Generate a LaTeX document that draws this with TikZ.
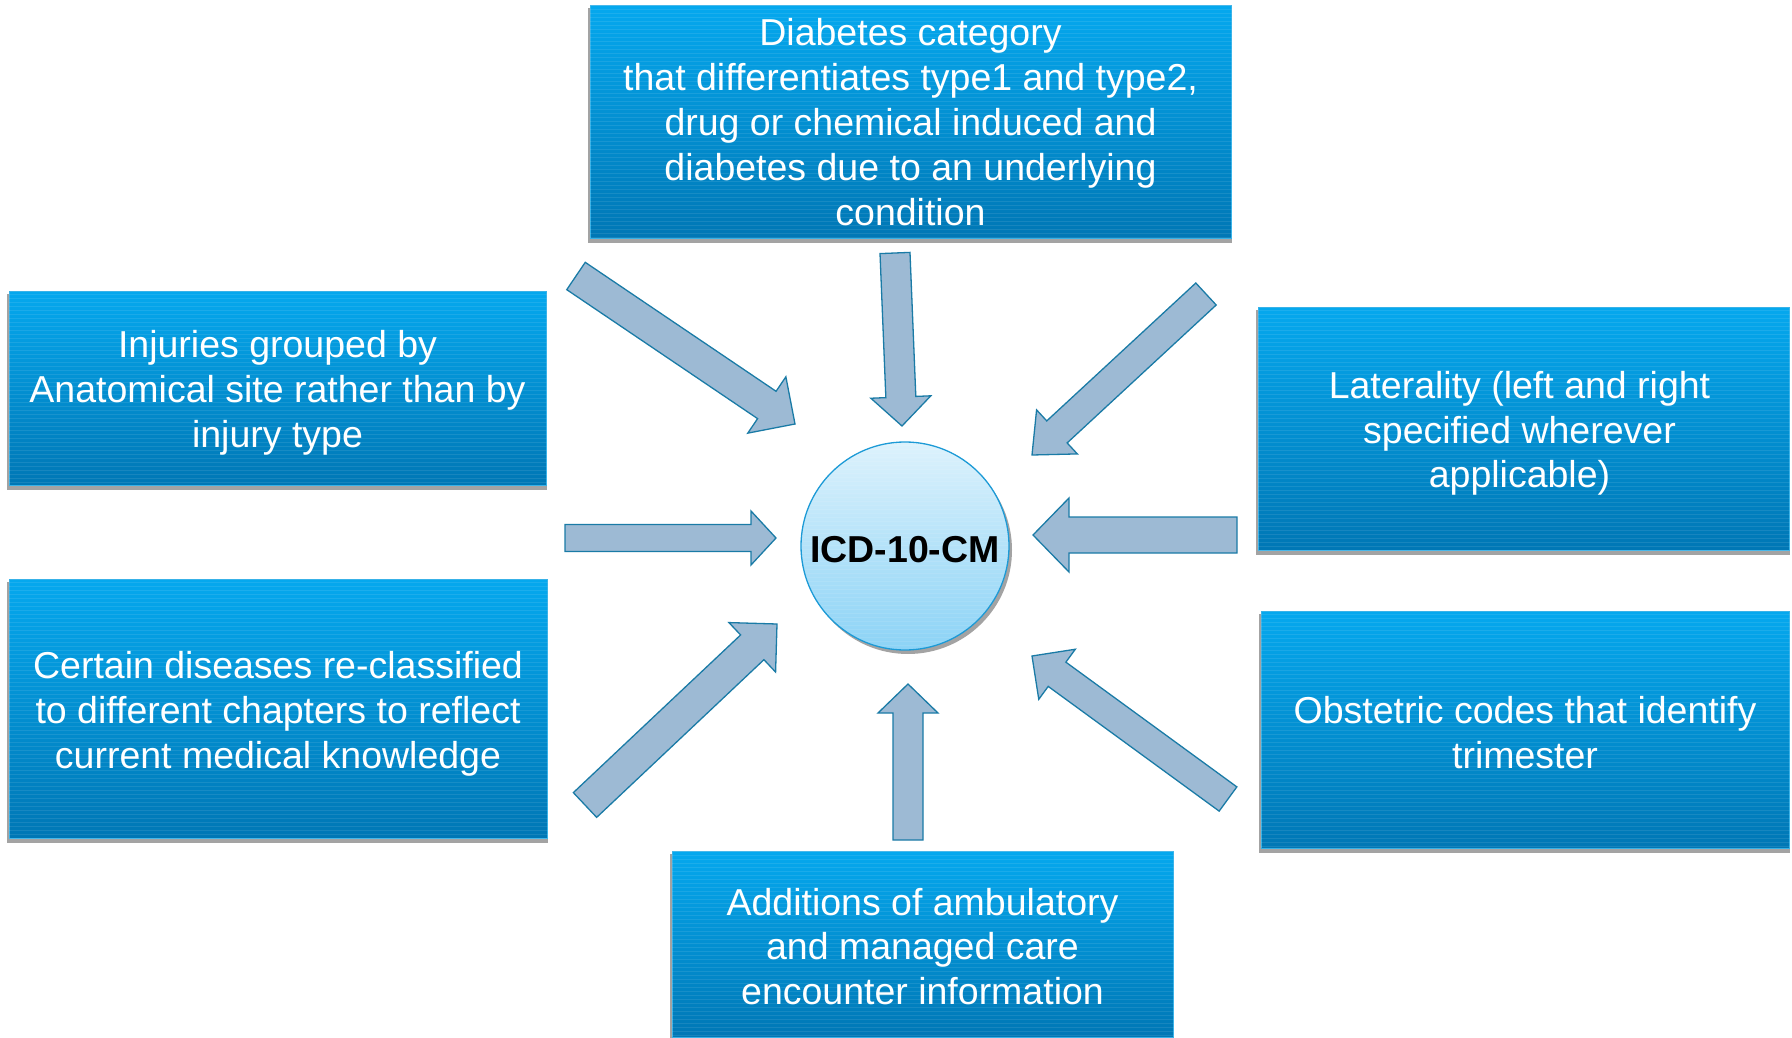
\documentclass[tikz,border=0pt]{standalone}
\usepackage{fontspec}
\setmainfont{Liberation Sans}
\usetikzlibrary{calc,backgrounds}
\definecolor{boxtop}{HTML}{05A8EE}
\definecolor{boxbot}{HTML}{0077B5}
\definecolor{boxedge}{HTML}{38B2E8}
\definecolor{arrfill}{HTML}{9DBAD4}
\definecolor{arredge}{HTML}{1A7BA6}
\definecolor{circtop}{HTML}{DDF2FC}
\definecolor{circbot}{HTML}{8CD3F6}
\definecolor{circedge}{HTML}{1C9AD6}
\definecolor{shadowc}{HTML}{A3A3A3}
\newcommand\stripes[1]{%
  \begin{scope}
    \clip (#1.south west) rectangle (#1.north east);
    \foreach \k in {0,...,65}{%
      \draw[stripe] ([yshift=-\k*4pt]#1.north west) -- ([yshift=-\k*4pt]#1.north east);}
  \end{scope}}
\newcommand\boxshadow[1]{%
  \begin{pgfonlayer}{background}
    \fill[shadowc] ([xshift=-1.5pt,yshift=-4pt]#1.south west) rectangle ([yshift=-3pt]#1.north east);
  \end{pgfonlayer}}
\newcommand\fatarrow[5]{% tail, tip, half shaft, half head, head length
  \path ($(#2)!#5!(#1)$) coordinate (nk);
  \draw[arr] ($(#1)!#3!90:(#2)$) -- ($(nk)!#3!90:(#2)$) -- ($(nk)!#4!90:(#2)$) -- (#2)
    -- ($(nk)!#4!-90:(#2)$) -- ($(nk)!#3!-90:(#2)$) -- ($(#1)!#3!-90:(#2)$) -- cycle;}
\begin{document}
\begin{tikzpicture}[x=1pt,y=-1pt,
  box/.style={draw=boxedge, line width=1pt, top color=boxtop, bottom color=boxbot, inner sep=0pt},
  boxtext/.style={text=white, align=center, inner sep=0pt, font=\fontsize{37.5}{44.8}\selectfont},
  stripe/.style={white, opacity=0.09, line width=0.8pt},
  arr/.style={draw=arredge, fill=arrfill, line width=1.3pt, line join=miter}]
\useasboundingbox (0,0) rectangle (1792,1038);

% boxes
\node[box, minimum width=641pt, minimum height=232pt] (diab) at (910.5,122) {};
\node[box, minimum width=537pt, minimum height=194pt] (inj) at (277.5,388) {};
\node[box, minimum width=538pt, minimum height=259pt] (cert) at (278,708.5) {};
\node[box, minimum width=531pt, minimum height=243pt] (lat) at (1523.5,428.5) {};
\node[box, minimum width=528pt, minimum height=237pt] (obs) at (1525,729.5) {};
\node[box, minimum width=501pt, minimum height=186pt] (add) at (922.5,944.5) {};
\foreach \n in {diab,inj,cert,lat,obs,add}{\boxshadow{\n}\stripes{\n}}

% box texts
\node[boxtext] (diabT) at ([yshift=0pt]diab.center)
  {Diabetes category\\that differentiates type1 and type2,\\drug or chemical induced and\\diabetes due to an underlying\\condition};
\node[boxtext] (injT) at ([yshift=-5pt]inj.center)
  {Injuries grouped by\\Anatomical site rather than by\\injury type};
\node[boxtext] (certT) at ([yshift=-5pt]cert.center)
  {Certain diseases re-classified\\to different chapters to reflect\\current medical knowledge};
\node[boxtext] (latT) at ([xshift=-4pt,yshift=-5pt]lat.center)
  {Laterality (left and right\\specified wherever\\applicable)};
\node[boxtext] (obsT) at ([yshift=-3pt]obs.center)
  {Obstetric codes that identify\\trimester};
\node[boxtext] (addT) at ([yshift=-2pt]add.center)
  {Additions of ambulatory\\and managed care\\encounter information};

% centre circle
\begin{pgfonlayer}{background}
  \fill[shadowc] (908,550) circle (104pt);
\end{pgfonlayer}
\node[circle, minimum size=208pt, inner sep=0pt, draw=circedge, line width=1.3pt,
  top color=circtop, bottom color=circbot] (icd) at (905,546) {};
\begin{scope}
  \clip (icd.center) circle (103pt);
  \foreach \k in {0,...,53}{%
    \draw[stripe] ($(icd.center)+(-110,-105+\k*4)$) -- ++(220,0);}
\end{scope}
\node[font=\bfseries\fontsize{37.5}{44}\selectfont, inner sep=0pt] (icdT) at ([yshift=-4pt]icd.center) {ICD-10-CM};

% arrow end points
\coordinate (t1) at (576,276);  \coordinate (h1) at (795,424);
\coordinate (t2) at (895,253);  \coordinate (h2) at (902,426);
\coordinate (t3) at (1206,294); \coordinate (h3) at (1032,455);
\coordinate (t4) at (565,538);  \coordinate (h4) at (776,538);
\coordinate (t5) at (1237,535); \coordinate (h5) at (1033,535);
\coordinate (t6) at (585,805);  \coordinate (h6) at (777,624);
\coordinate (t7) at (908,840);  \coordinate (h7) at (908,684);
\coordinate (t8) at (1228,799); \coordinate (h8) at (1032,656);

\fatarrow{t1}{h1}{16.5pt}{34pt}{34pt}
\fatarrow{t2}{h2}{15pt}{30pt}{29pt}
\fatarrow{t3}{h3}{15pt}{30pt}{34pt}
\fatarrow{t4}{h4}{13.5pt}{27pt}{25pt}
\fatarrow{t5}{h5}{18pt}{37pt}{36pt}
\fatarrow{t6}{h6}{17pt}{34pt}{34pt}
\fatarrow{t7}{h7}{15pt}{30pt}{29pt}
\fatarrow{t8}{h8}{15pt}{31pt}{31pt}
\end{tikzpicture}
\end{document}
